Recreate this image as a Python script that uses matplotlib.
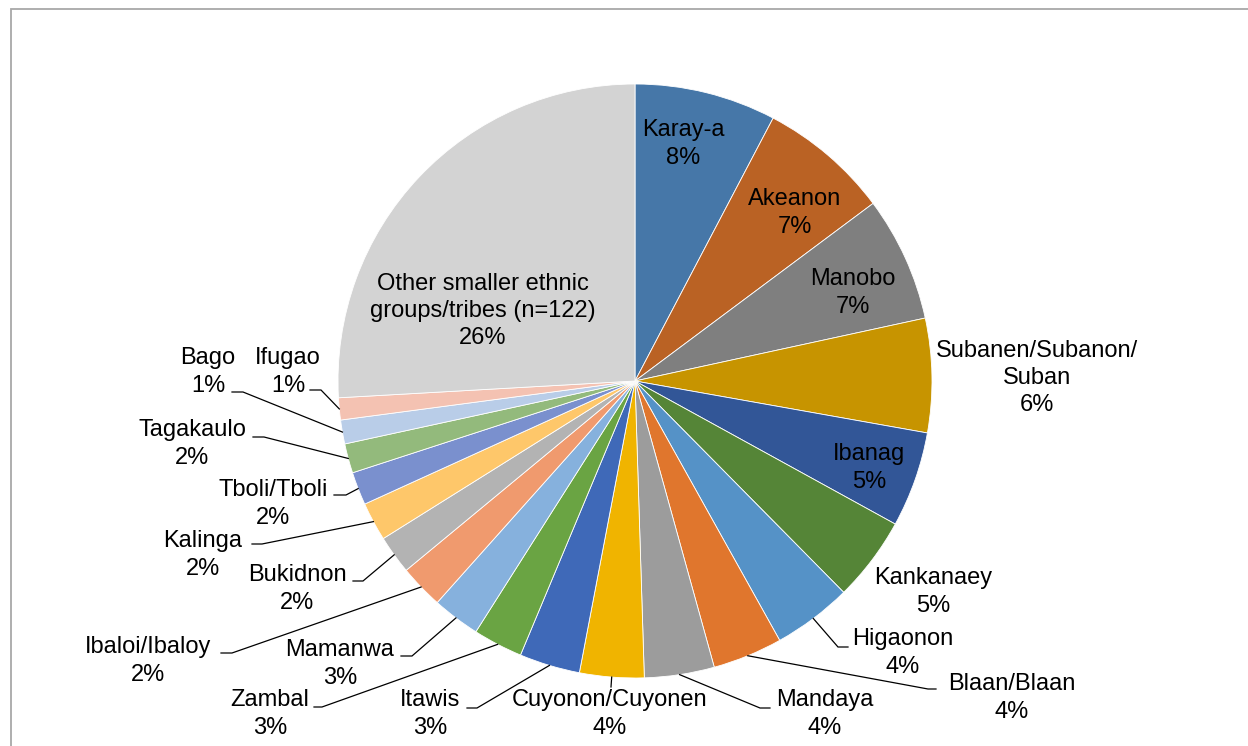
import numpy as np
import matplotlib
matplotlib.use("Agg")
import matplotlib.pyplot as plt
from matplotlib.patches import Rectangle

# shares of respondents by ethnic group (percent)
groups = ["Karay-a", "Akeanon", "Manobo", "Subanen/Subanon/\nSuban", "Ibanag",
          "Kankanaey", "Higaonon", "Blaan/Blaan", "Mandaya", "Cuyonon/Cuyonen",
          "Itawis", "Zambal", "Mamanwa", "Ibaloi/Ibaloy", "Bukidnon",
          "Kalinga", "Tboli/Tboli", "Tagakaulo", "Bago", "Ifugao",
          "Other smaller ethnic\ngroups/tribes (n=122)"]
shares = [7.7, 7.1, 6.8, 6.2, 5.2,
          4.6, 4.3, 3.8, 3.8, 3.5,
          3.3, 2.7, 2.6, 2.4, 2.1,
          2.1, 1.8, 1.6, 1.3, 1.2,
          25.9]
colors = ["#4677A8", "#BA6224", "#7F7F7F", "#C79400", "#325697",
          "#558537", "#5592C7", "#E0762D", "#9C9C9C", "#F0B400",
          "#3F69B8", "#6AA443", "#86B1DD", "#F09A6E", "#B3B3B3",
          "#FEC76A", "#7A90CE", "#93BA7C", "#B9CDE8", "#F4C2B2",
          "#D3D3D3"]

# label layout in picture pixels: text centre, and leader elbow + stub end (None = no leader)
CX, CY, R = 635, 381, 297
label_xy = [(683, 144), (795, 213), (853, 293), (1037, 378), (869, 468),
            (933, 592), (903, 653), (1012, 698), (825, 714), (610, 714),
            (430, 714), (270, 714), (340, 664), (148, 661), (297, 589),
            (203, 555), (273, 504), (192, 444), (208, 372), (288, 372),
            (483, 311)]
leaders = [None, None, None, None, None,
           None, (838, 647, 848), (928, 689, 936), (760, 708, 770), (611, 687, 611),
           (477, 708, 467), (322, 707, 314), (412, 656, 401), (232, 653, 221), (363, 581, 353),
           (262, 544, 252), (346, 495, 334), (264, 437, 253), (243, 392, 232), (321, 390, 310),
           None]


def px(x, y):  # picture pixel -> pie data units
    return (x - CX) / R, (CY - y) / R


W, H = 1248, 746
fig = plt.figure(figsize=(W / 100, H / 100), dpi=100)
ax = fig.add_axes([0, 0, 1, 1])

ax.pie(shares, colors=colors, startangle=90, counterclock=False,
       radius=1, center=(0, 0),
       wedgeprops=dict(edgecolor="white", linewidth=0.6))
ax.set_aspect("auto")
ax.set_xlim(px(0, 0)[0], px(W, 0)[0])
ax.set_ylim(px(0, H)[1], px(0, 0)[1])
ax.axis("off")

total = sum(shares)
cum = 0.0
for i, (name, v) in enumerate(zip(groups, shares)):
    mid = np.deg2rad(360 * (cum + v / 2) / total)
    cum += v
    pct = int(v / total * 100 + 0.5)
    tx, ty = px(*label_xy[i])
    ax.text(tx, ty, f"{name}\n{pct}%", ha="center", va="center",
            multialignment="center", fontsize=17, family="Liberation Sans",
            linespacing=1.3, color="black")
    if leaders[i] is not None:
        ex, ey, sx = leaders[i]
        x0, y0 = np.sin(mid), np.cos(mid)
        x1, y1 = px(ex, ey)
        x2, _ = px(sx, ey)
        ax.plot([x0, x1, x2], [y0, y1, y1], color="black", lw=0.9,
                solid_joinstyle="miter")

# outer chart-area frame (right and bottom edges fall outside the picture)
fig.patches.append(Rectangle((11 / W, -0.1), 1.2, 1 - 9 / H + 0.1,
                             transform=fig.transFigure, fill=False,
                             edgecolor="#A8A8A8", linewidth=1.3))

fig.savefig("out.png", dpi=100)
